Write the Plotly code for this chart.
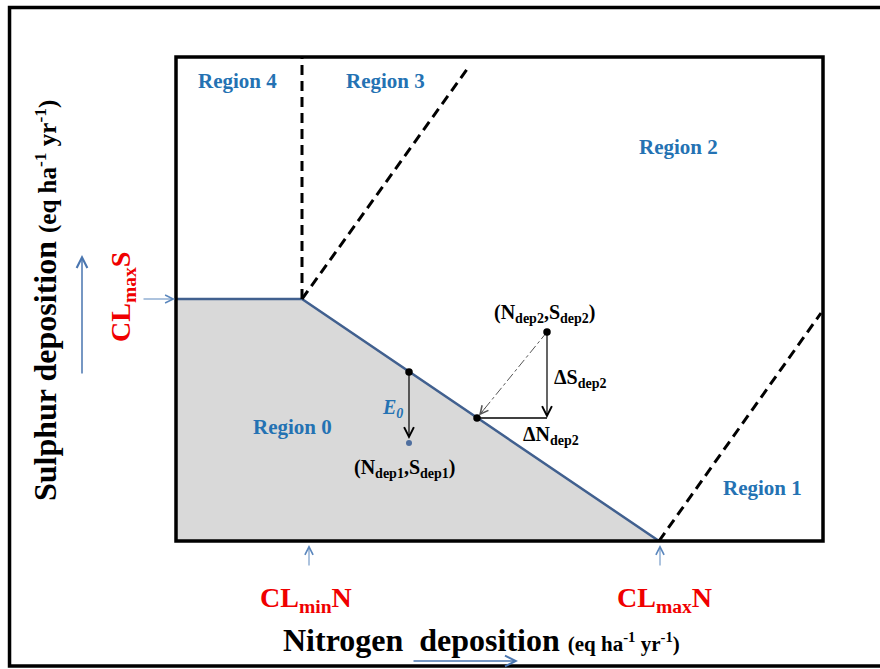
import plotly.graph_objects as go

# ---------------- data (schematic units: N and S deposition) ----------------
X_RANGE = [0, 647]
Y_RANGE = [0, 484]
CL_MIN_N = 126
CL_MAX_N = 483
CL_MAX_S = 242

fill_x = [0, 0, CL_MIN_N, CL_MAX_N, 0]
fill_y = [0, CL_MAX_S, CL_MAX_S, 0, 0]
boundary_x = [0, CL_MIN_N, CL_MAX_N]
boundary_y = [CL_MAX_S, CL_MAX_S, 0]

div4_x = [CL_MIN_N, CL_MIN_N]
div4_y = [CL_MAX_S, 484]
div3_x = [CL_MIN_N, 292]
div3_y = [CL_MAX_S, 473]
div1_x = [CL_MAX_N, 645]
div1_y = [0, 228]

e0_top = [233, 169]
dep1 = [233, 98]
foot2 = [301, 123]
dep2 = [371, 209]

region_names = ["Region 0", "Region 1", "Region 2", "Region 3", "Region 4"]
region_x = [116, 586, 502, 209, 61]
region_y = [114, 53, 394, 460, 460]

# ---------------- styles ----------------
FONT = "Liberation Serif"
REG_BLUE = "#2472B3"
LINE_BLUE = "#41608F"
ARROW_BLUE = "#5B87BD"
RED = "#F00000"
PLOT_W = 880 - 176 - 57
PLOT_H = 669 - 57 - 128
UX = PLOT_W / (X_RANGE[1] - X_RANGE[0])   # pixels per data unit
UY = PLOT_H / (Y_RANGE[1] - Y_RANGE[0])


def to_paper(x, y):
    return ((x - X_RANGE[0]) / (X_RANGE[1] - X_RANGE[0]),
            (y - Y_RANGE[0]) / (Y_RANGE[1] - Y_RANGE[0]))


fig = go.Figure()

fig.add_trace(go.Scatter(x=fill_x, y=fill_y, fill="toself", fillcolor="#D9D9D9",
                         mode="lines", line=dict(width=0), hoverinfo="skip"))
fig.add_trace(go.Scatter(x=boundary_x, y=boundary_y, mode="lines",
                         line=dict(color=LINE_BLUE, width=2.5), hoverinfo="skip"))
for dx, dy in [(div4_x, div4_y), (div3_x, div3_y), (div1_x, div1_y)]:
    fig.add_trace(go.Scatter(x=dx, y=dy, mode="lines",
                             line=dict(color="black", width=3, dash="10px,6px"),
                             hoverinfo="skip"))

# delta N horizontal line
fig.add_trace(go.Scatter(x=[foot2[0], dep2[0]], y=[foot2[1], foot2[1]], mode="lines",
                         line=dict(color="black", width=1.3), hoverinfo="skip"))
# dash-dot line
fig.add_trace(go.Scatter(x=[dep2[0], foot2[0]], y=[dep2[1], foot2[1]], mode="lines",
                         line=dict(color="#555555", width=1, dash="dashdot"),
                         hoverinfo="skip"))

# points
fig.add_trace(go.Scatter(x=[e0_top[0], foot2[0], dep2[0]], y=[e0_top[1], foot2[1], dep2[1]],
                         mode="markers", marker=dict(color="black", size=7.5),
                         hoverinfo="skip", cliponaxis=False))
fig.add_trace(go.Scatter(x=[dep1[0]], y=[dep1[1]], mode="markers",
                         marker=dict(color="#4F6F9F", size=6), hoverinfo="skip"))


def arrow(tail, head, color="black", width=1.2, head_style=5, size=1.6):
    px, py = to_paper(*head)
    fig.add_annotation(x=px, y=py, xref="paper", yref="paper",
                       ax=(tail[0] - head[0]) * UX, ay=-(tail[1] - head[1]) * UY,
                       axref="pixel", ayref="pixel", text="",
                       showarrow=True, arrowhead=head_style, arrowsize=size,
                       arrowwidth=width, arrowcolor=color, standoff=0, startstandoff=0)


arrow(e0_top, [dep1[0], dep1[1] + 4])
arrow(dep2, [dep2[0], foot2[1]])
arrow([foot2[0] + 10, foot2[1] + 12.3], [foot2[0] + 2, foot2[1] + 2.5], color="#555555", width=1)

# axis marker arrows
arrow([-34, CL_MAX_S], [-1, CL_MAX_S], color=ARROW_BLUE, width=1)
arrow([133, -26], [133, -4], color=ARROW_BLUE, width=1)
arrow([CL_MAX_N + 1, -26], [CL_MAX_N + 1, -4], color=ARROW_BLUE, width=1)
arrow([-94, 166], [-94, 286], color="#4A76B0", width=1.5, size=1.4)
arrow([236, -120], [342, -120], color="#4A76B0", width=1.5, size=1.4)


def label(x, y, text, size, color="black", angle=0):
    px, py = to_paper(x, y)
    fig.add_annotation(x=px, y=py, xref="paper", yref="paper", text=text, showarrow=False,
                       xanchor="center", yanchor="middle",
                       textangle=angle, font=dict(family=FONT, size=size, color=color))


for name, rx, ry in zip(region_names, region_x, region_y):
    label(rx, ry, "<b>" + name + "</b>", 21, REG_BLUE)

label(216, 133, "<b><i>E<sub>0</sub></i></b>", 20, REG_BLUE)
label(229, 73, "<b>(N<sub>dep1</sub>,S<sub>dep1</sub>)</b>", 20)
label(369, 228, "<b>(N<sub>dep2</sub>,S<sub>dep2</sub>)</b>", 20)
label(404, 163, "<b>ΔS<sub>dep2</sub></b>", 20)
label(375, 106, "<b>ΔN<sub>dep2</sub></b>", 20)

label(130, -58, "<b>CL<sub>min</sub>N</b>", 28, RED)
label(488, -58, "<b>CL<sub>max</sub>N</b>", 28, RED)
label(-54, 244, "<b>CL<sub>max</sub>S</b>", 28, RED, angle=-90)

label(305, -99, "<b>Nitrogen&nbsp; deposition</b> <b><span style='font-size:21px'>(eq ha<sup>-1</sup> yr<sup>-1</sup>)</span></b>", 32)
label(-131, 240, "<b>Sulphur deposition</b> <b><span style='font-size:25px'>(eq ha<sup>-1</sup> yr<sup>-1</sup>)</span></b>", 32, angle=-90)

# inner box and outer frame
fig.add_shape(type="rect", xref="paper", yref="paper", x0=0, y0=0, x1=1, y1=1,
              line=dict(color="black", width=3.5), layer="above")
fig.add_shape(type="rect", xref="paper", yref="paper",
              x0=-0.2573, y0=-0.2583, x1=1.0958, y1=1.1023,
              line=dict(color="black", width=3.5), layer="above")

axis_style = dict(showgrid=False, zeroline=False, showticklabels=False, ticks="",
                  showline=False, fixedrange=True)
fig.update_xaxes(range=X_RANGE, **axis_style)
fig.update_yaxes(range=Y_RANGE, **axis_style)
fig.update_layout(width=880, height=669, showlegend=False,
                  margin=dict(l=176, r=57, t=57, b=128),
                  paper_bgcolor="white", plot_bgcolor="white")

fig.write_html("out.html")
